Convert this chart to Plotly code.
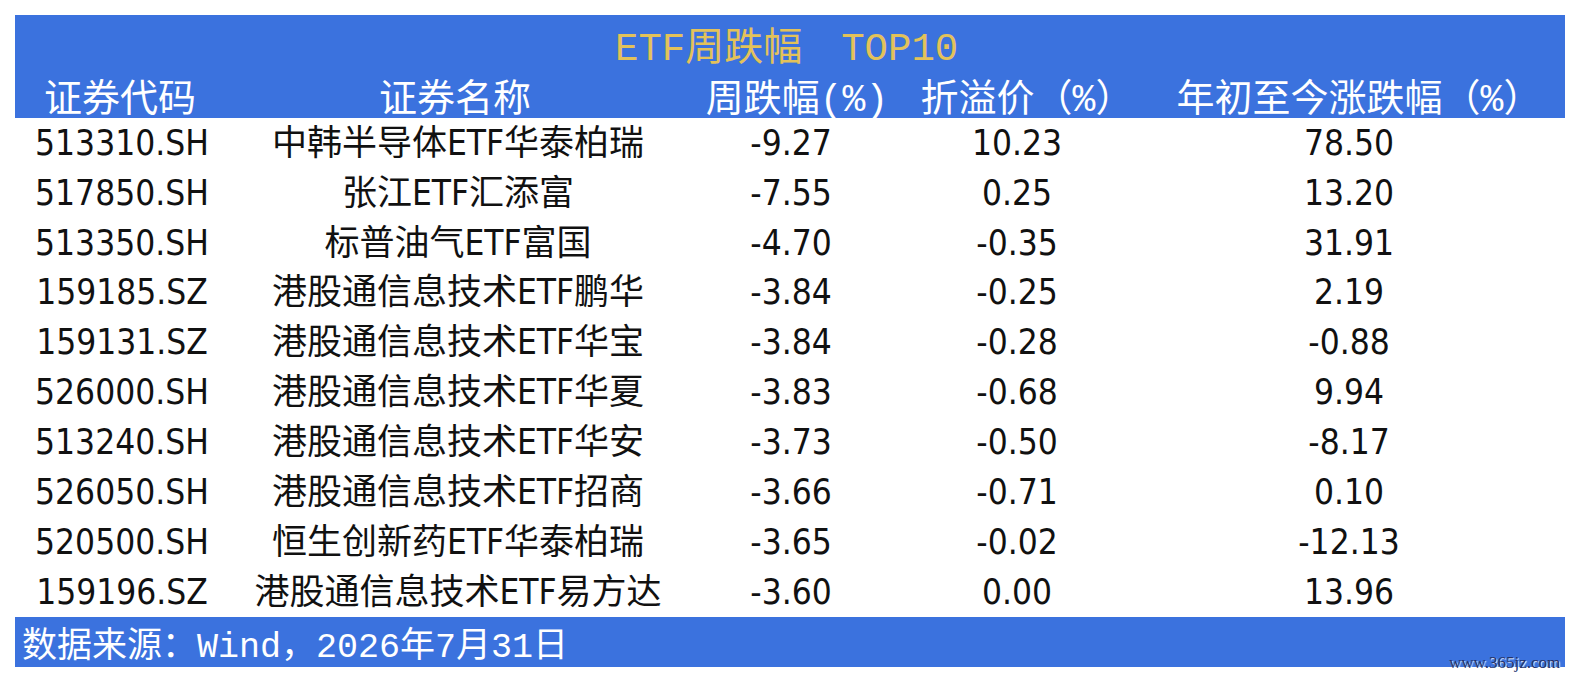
import plotly.graph_objects as go

# ETF weekly decline top 10
codes = ["513310.SH", "517850.SH", "513350.SH", "159185.SZ", "159131.SZ",
         "526000.SH", "513240.SH", "526050.SH", "520500.SH", "159196.SZ"]
names = ["中韩半导体ETF华泰柏瑞", "张江ETF汇添富", "标普油气ETF富国",
         "港股通信息技术ETF鹏华", "港股通信息技术ETF华宝", "港股通信息技术ETF华夏",
         "港股通信息技术ETF华安", "港股通信息技术ETF招商", "恒生创新药ETF华泰柏瑞",
         "港股通信息技术ETF易方达"]
week_chg = [-9.27, -7.55, -4.70, -3.84, -3.84, -3.83, -3.73, -3.66, -3.65, -3.60]
premium = [10.23, 0.25, -0.35, -0.25, -0.28, -0.68, -0.50, -0.71, -0.02, 0.00]
ytd_chg = [78.50, 13.20, 31.91, 2.19, -0.88, 9.94, -8.17, 0.10, -12.13, 13.96]

headers = ["证券代码", "证券名称", "周跌幅(%)", "折溢价（%）", "年初至今涨跌幅（%）"]
title_text = "ETF周跌幅\u3000TOP10"
source_text = "数据来源：Wind，2026年7月31日"
watermark = "www.365jz.com"

W, H = 1580, 682
blue = "#3B72DE"
gold = "#E3C25A"
data_font = "DejaVu Sans Condensed, Noto Sans CJK SC, sans-serif"
head_font = "Liberation Mono, Noto Sans CJK SC, serif"

col_x = [122, 458, 791, 1017, 1349]
head_x = [120, 455, 797, 1027, 1359]
rows = list(range(len(codes)))
row_h = 49.9
first_row = 146
y_top = -first_row / row_h
y_bot = (H - first_row) / row_h

columns = [codes, names,
           [f"{v:.2f}" for v in week_chg],
           [f"{v:.2f}" for v in premium],
           [f"{v:.2f}" for v in ytd_chg]]

fig = go.Figure()

for x, col in zip(col_x, columns):
    fig.add_trace(go.Scatter(x=[x] * len(rows), y=rows, mode="text", text=col,
                             textposition="middle center",
                             textfont=dict(family=data_font, size=35, color="#111111"),
                             hoverinfo="skip", showlegend=False))

# column headers
fig.add_trace(go.Scatter(x=head_x, y=[(101 - first_row) / row_h] * len(headers),
                         mode="text", text=headers, textposition="middle center",
                         textfont=dict(family=head_font, size=38, color="white"),
                         hoverinfo="skip", showlegend=False))

# blue bands
fig.add_shape(type="rect", xref="x", yref="paper", x0=15, x1=1565,
              y0=1 - 118 / H, y1=1 - 15 / H, fillcolor=blue, line_width=0, layer="below")
fig.add_shape(type="rect", xref="x", yref="paper", x0=15, x1=1565,
              y0=1 - 667 / H, y1=1 - 617 / H, fillcolor=blue, line_width=0, layer="below")

fig.add_annotation(x=786, y=1 - 49 / H, xref="x", yref="paper", text=title_text,
                   showarrow=False, xanchor="center", yanchor="middle",
                   font=dict(family=head_font, size=39, color=gold))
fig.add_annotation(x=20, y=1 - 647 / H, xref="x", yref="paper", text=source_text,
                   showarrow=False, xanchor="left", yanchor="middle",
                   font=dict(family=head_font, size=35, color="white"))
fig.add_annotation(x=1562, y=1 - 662 / H, xref="x", yref="paper", text=watermark,
                   showarrow=False, xanchor="right", yanchor="middle",
                   font=dict(family="Liberation Serif, serif", size=17, color="#22326A",
                             shadow="1px 1px 1px white"))

fig.update_layout(
    width=W, height=H,
    margin=dict(l=0, r=0, t=0, b=0),
    paper_bgcolor="white", plot_bgcolor="white",
    xaxis=dict(range=[0, W], visible=False, fixedrange=True),
    yaxis=dict(range=[y_bot, y_top], visible=False, fixedrange=True),
)

# drop the default page margin so the figure sits at the window corner
fig.write_html("out.html", config={"displayModeBar": False},
               post_script="document.body.style.margin='0';")
